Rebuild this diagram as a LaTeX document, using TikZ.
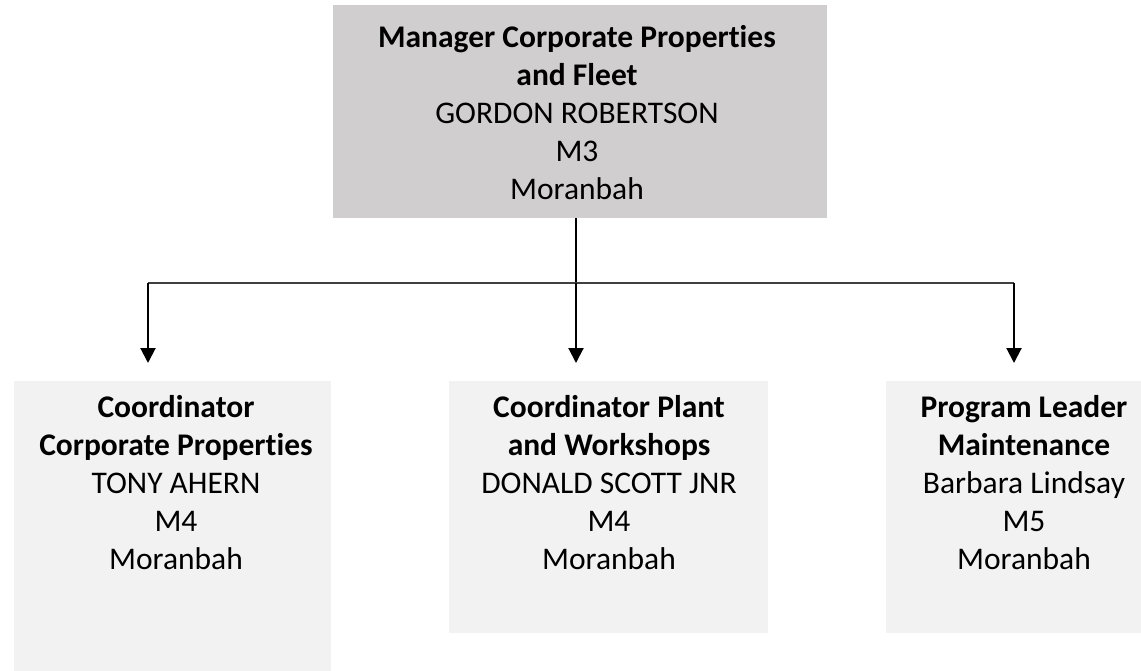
\documentclass[tikz,border=0pt]{standalone}
\usepackage{fontspec}
\setmainfont{Carlito}[Ligatures=NoCommon]
\usetikzlibrary{arrows.meta}
\definecolor{headfill}{RGB}{208,206,206}
\definecolor{boxfill}{RGB}{242,242,242}
\definecolor{busline}{RGB}{64,64,64}
\begin{document}
\begin{tikzpicture}[x=1pt,y=-1pt,
  panel/.style={draw=none,inner sep=0pt,outer sep=0pt,anchor=north west},
  label/.style={inner sep=0pt,outer sep=0pt,anchor=north,align=center,
    font=\fontsize{31.5}{38}\selectfont},
  feed/.style={line width=2pt,black},
  bus/.style={line width=1.2pt,busline},
  drop/.style={line width=2pt,black,-{Triangle[width=15pt,length=15pt]},shorten >=18pt}]
  \useasboundingbox (0,0) rectangle (1141,670);
  \clip (0,0) rectangle (1141,670);

  % boxes
  \node[panel,fill=headfill,minimum width=494pt,minimum height=213pt] (top) at (333,5) {};
  \node[panel,fill=boxfill,minimum width=317pt,minimum height=320pt] (left) at (14,381) {};
  \node[panel,fill=boxfill,minimum width=319pt,minimum height=252pt] (mid) at (449,381) {};
  \node[panel,fill=boxfill,minimum width=276pt,minimum height=252pt] (right) at (886,381) {};

  % texts
  \node[label] (toptext) at (577,25) {\textbf{Manager Corporate Properties}\\\textbf{and Fleet}\\GORDON ROBERTSON\\M3\\Moranbah};
  \node[label] (lefttext) at (176,395) {\textbf{Coordinator}\\\textbf{Corporate Properties}\\TONY AHERN\\M4\\Moranbah};
  \node[label] (midtext) at (609,395) {\textbf{Coordinator Plant}\\\textbf{and Workshops}\\DONALD SCOTT JNR\\M4\\Moranbah};
  \node[label] (righttext) at (1024,395) {\textbf{Program Leader}\\\textbf{Maintenance}\\Barbara Lindsay\\M5\\Moranbah};

  % connectors
  \coordinate (jl) at (148,283);
  \coordinate (jn) at (576,283);
  \coordinate (jr) at (1014,283);
  \draw[feed] (top.south -| jn) -- (jn);
  \draw[bus] (jl) -- (jr);
  \draw[drop] (jl) -- (jl |- left.north);
  \draw[drop] (jn) -- (jn |- mid.north);
  \draw[drop] (jr) -- (jr |- right.north);
\end{tikzpicture}
\end{document}
